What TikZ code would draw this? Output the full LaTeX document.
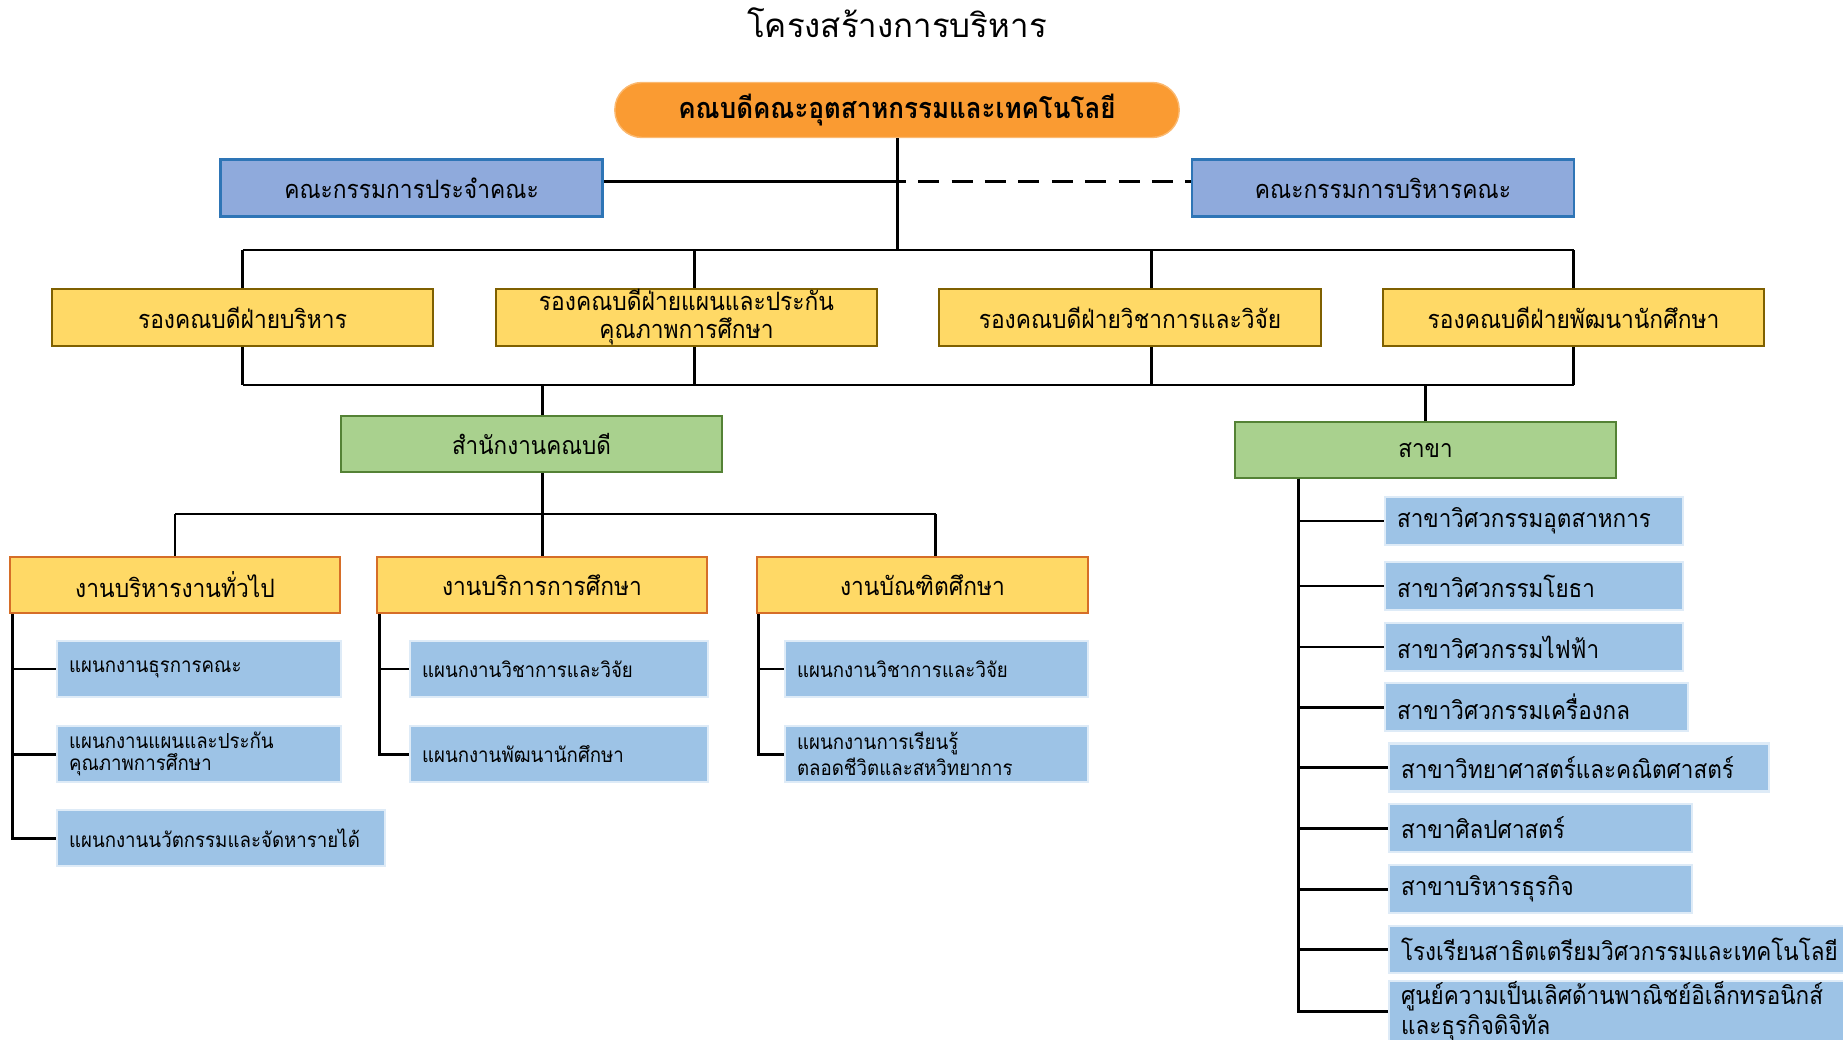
\documentclass[tikz,border=0pt]{standalone}
\usepackage{fontspec}
\newfontfamily\thaititle[Script=Thai]{Loma}
\newfontfamily\thai[Script=Thai, FakeStretch=0.9]{Loma}
\usepackage{tikz}
\definecolor{deanorange}{RGB}{250,155,50}
\definecolor{comfill}{RGB}{143,170,220}
\definecolor{comline}{RGB}{46,117,182}
\definecolor{vpfill}{RGB}{255,217,102}
\definecolor{vpline}{RGB}{127,96,0}
\definecolor{offfill}{RGB}{169,209,142}
\definecolor{offline}{RGB}{84,130,53}
\definecolor{unitline}{RGB}{214,110,40}
\definecolor{subfill}{RGB}{157,195,230}
\definecolor{subline}{RGB}{222,235,247}

\begin{document}
\begin{tikzpicture}[x=0.01cm, y=-0.01cm,
  conn/.style={draw=black, line width=0.85pt},
  deanbox/.style={rectangle, rounded corners=0.27cm, fill=deanorange, draw=deanorange!70!white, line width=0.4pt, minimum width=5.64cm, minimum height=0.55cm, inner sep=0pt, font=\thai\bfseries\fontsize{8.2}{10}\selectfont},
  combox/.style={rectangle, fill=comfill, draw=comline, line width=0.7pt, minimum width=3.82cm, minimum height=0.57cm, inner sep=0pt, font=\thai\fontsize{7.2}{9}\selectfont},
  vpbox/.style={rectangle, fill=vpfill, draw=vpline, line width=0.6pt, minimum width=3.81cm, minimum height=0.57cm, inner sep=0pt, align=center, font=\thai\fontsize{7.2}{8}\selectfont},
  offbox/.style={rectangle, fill=offfill, draw=offline, line width=0.5pt, minimum width=3.81cm, minimum height=0.56cm, inner sep=0pt, font=\thai\fontsize{7.1}{9}\selectfont},
  unitbox/.style={rectangle, fill=vpfill, draw=unitline, line width=0.6pt, minimum width=3.30cm, minimum height=0.56cm, inner sep=0pt, font=\thai\fontsize{7.2}{8}\selectfont},
  subbox/.style={rectangle, anchor=west, fill=subfill, draw=subline, line width=0.6pt, text width=#1, inner xsep=0.12cm, inner ysep=0pt, minimum height=0.56cm, align=left, font=\thai\fontsize{5.9}{6.3}\selectfont},
  majbox/.style={rectangle, anchor=west, fill=subfill, draw=subline, line width=0.6pt, text width=#1, inner xsep=0.12cm, inner ysep=0pt, minimum height=0.48cm, align=left, font=\thai\fontsize{7.1}{6.8}\selectfont}
]
\useasboundingbox (0,0) rectangle (1843,1040);

% Title and dean
\node[font=\thaititle\fontsize{9.4}{12}\selectfont] (title) at (897,23) {โครงสร้างการบริหาร};
\node[deanbox] (dean) at (897,110) {คณบดีคณะอุตสาหกรรมและเทคโนโลยี};

% Committees
\node[combox] (comL) at (411.5,188) {คณะกรรมการประจำคณะ};
\node[combox] (comR) at (1383,188) {คณะกรรมการบริหารคณะ};

% Deputy deans
\node[vpbox] (vp1) at (242.5,317.5) {รองคณบดีฝ่ายบริหาร};
\node[vpbox] (vp2) at (686.5,317.5) {รองคณบดีฝ่ายแผนและประกัน\\คุณภาพการศึกษา};
\node[vpbox] (vp3) at (1130,317.5) {รองคณบดีฝ่ายวิชาการและวิจัย};
\node[vpbox] (vp4) at (1573.5,317.5) {รองคณบดีฝ่ายพัฒนานักศึกษา};

% Office and departments
\node[offbox] (office) at (531.5,444) {สำนักงานคณบดี};
\node[offbox] (sakha) at (1425.5,450) {สาขา};

% Office units
\node[unitbox] (unit1) at (175,585) {งานบริหารงานทั่วไป};
\node[unitbox] (unit2) at (542,585) {งานบริการการศึกษา};
\node[unitbox] (unit3) at (922.5,585) {งานบัณฑิตศึกษา};

% Sections
\node[subbox=2.60cm] (s11) at (56,669) {แผนกงานธุรการคณะ};
\node[subbox=2.60cm] (s12) at (56,754) {แผนกงานแผนและประกัน\\คุณภาพการศึกษา};
\node[subbox=3.04cm] (s13) at (56,838) {แผนกงานนวัตกรรมและจัดหารายได้};
\node[subbox=2.74cm] (s21) at (409,669) {แผนกงานวิชาการและวิจัย};
\node[subbox=2.74cm] (s22) at (409,754) {แผนกงานพัฒนานักศึกษา};
\node[subbox=2.79cm] (s31) at (784,669) {แผนกงานวิชาการและวิจัย};
\node[subbox=2.79cm] (s32) at (784,754) {แผนกงานการเรียนรู้\\ตลอดชีวิตและสหวิทยาการ};

% Departments list
\node[majbox=2.74cm] (m1) at (1384,521) {สาขาวิศวกรรมอุตสาหการ};
\node[majbox=2.74cm] (m2) at (1384,586) {สาขาวิศวกรรมโยธา};
\node[majbox=2.74cm] (m3) at (1384,647) {สาขาวิศวกรรมไฟฟ้า};
\node[majbox=2.79cm] (m4) at (1384,707) {สาขาวิศวกรรมเครื่องกล};
\node[majbox=3.56cm] (m5) at (1388,767.5) {สาขาวิทยาศาสตร์และคณิตศาสตร์};
\node[majbox=2.79cm] (m6) at (1388,828) {สาขาศิลปศาสตร์};
\node[majbox=2.79cm] (m7) at (1388,889) {สาขาบริหารธุรกิจ};
\node[majbox=4.40cm, minimum height=0.47cm] (m8) at (1388,949.5) {โรงเรียนสาธิตเตรียมวิศวกรรมและเทคโนโลยี};
\node[majbox=4.40cm, minimum height=0.54cm, font=\thai\fontsize{7.1}{6.4}\selectfont] (m9) at (1388,1011) {ศูนย์ความเป็นเลิศด้านพาณิชย์อิเล็กทรอนิกส์\\และธุรกิจดิจิทัล};

% Trunk and committee links
\coordinate (topbus) at (897,250);
\coordinate (midbus) at (897,385);
\coordinate (unitbus) at (542,514);
\draw[conn] (dean) -- (topbus);
\draw[conn] ([yshift=0.06cm]comL.east) -- ([yshift=0.06cm]comL.east -| topbus);
\draw[conn, dash pattern=on 6pt off 3.5pt, dash phase=3.5pt] ([yshift=0.06cm]comR.west -| topbus) -- ([yshift=0.06cm]comR.west);

% Deputy dean buses
\draw[conn] (vp1.north |- topbus) -- (vp4.north |- topbus);
\draw[conn] (vp1.south |- midbus) -- (vp4.south |- midbus);
\foreach \v/\dx in {vp1/0, vp2/8, vp3/21, vp4/0} {
  \draw[conn] ([xshift=\dx*0.01cm]\v.north) -- ([xshift=\dx*0.01cm]\v.north |- topbus);
  \draw[conn] ([xshift=\dx*0.01cm]\v.south) -- ([xshift=\dx*0.01cm]\v.south |- midbus);
}
\draw[conn] ([xshift=0.11cm]office.north) -- ([xshift=0.11cm]office.north |- midbus);
\draw[conn] (sakha) -- (sakha.north |- midbus);

% Office units
\draw[conn] ([xshift=0.11cm]office.south) -- ([xshift=0.11cm]office.south |- unitbus);
\draw[conn] (unit1.north |- unitbus) -- ([xshift=0.13cm]unit3.north |- unitbus);
\draw[conn] (unit1) -- (unit1.north |- unitbus);
\draw[conn] (unit2) -- (unit2.north |- unitbus);
\draw[conn] ([xshift=0.13cm]unit3.north) -- ([xshift=0.13cm]unit3.north |- unitbus);

% Section links
\foreach \s in {s11,s12,s13}
  \draw[conn] ([xshift=0.04cm]unit1.south west) |- (\s.west);
\foreach \s in {s21,s22}
  \draw[conn] ([xshift=0.04cm]unit2.south west) |- (\s.west);
\foreach \s in {s31,s32}
  \draw[conn] ([xshift=0.02cm]unit3.south west) |- (\s.west);
\foreach \s in {m1,m2,m3,m4,m5,m6,m7,m8,m9}
  \draw[conn] ([xshift=0.64cm]sakha.south west) |- (\s.west);
\end{tikzpicture}
\end{document}
